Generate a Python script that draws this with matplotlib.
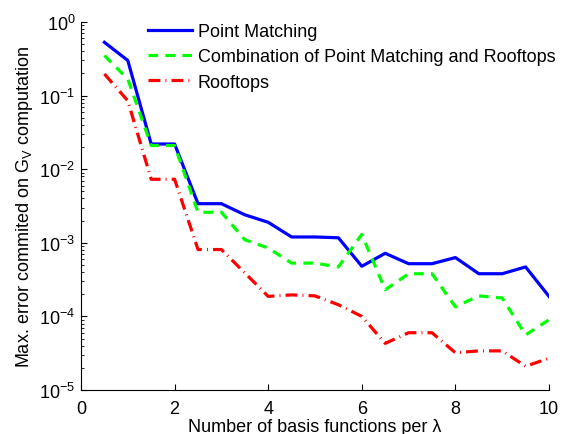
import numpy as np
import matplotlib
matplotlib.use("Agg")
import matplotlib.pyplot as plt
from matplotlib.ticker import LogLocator, NullFormatter

plt.rcParams['font.family'] = ['Liberation Sans', 'DejaVu Sans']
plt.rcParams['mathtext.fontset'] = 'custom'
plt.rcParams['mathtext.rm'] = 'Liberation Sans'
plt.rcParams['mathtext.it'] = 'Liberation Sans'

# basis functions per lambda
n_basis = [0.5, 1, 1.5, 2, 2.5, 3, 3.5, 4, 4.5, 5,
           5.5, 6, 6.5, 7, 7.5, 8, 8.5, 9, 9.5, 10]

# max error, point matching
err_pm = [0.53, 0.30, 0.022, 0.022, 0.0034, 0.0034, 0.0024, 0.0019, 0.0012, 0.0012,
          0.00117, 0.00048, 0.00072, 0.00052, 0.00052, 0.00063, 0.00038, 0.00038, 0.00047, 0.000187]

# combination of point matching and rooftops
err_comb = [0.35, 0.168, 0.021, 0.021, 0.0026, 0.0026, 0.0011, 0.00085, 0.00053, 0.00053,
            0.00047, 0.0013, 0.00023, 0.00038, 0.00038, 0.000135, 0.00019, 0.000178, 0.000056, 0.00009]

# rooftops
err_roof = [0.197, 0.085, 0.0073, 0.0073, 0.00081, 0.00081, 0.00039, 0.000187, 0.000196, 0.00019,
            0.000144, 0.0001, 0.000043, 0.00006, 0.00006, 0.000032, 0.000034, 0.000034, 0.000021, 0.000027]

fs = 13

fig = plt.figure(figsize=(5.69, 4.35), dpi=100)
ax = fig.add_axes([81/569, 1 - 391/435, (549 - 81)/569, (391 - 23)/435])

ax.semilogy(n_basis, err_pm, color='#0000ff', lw=2.3, label='Point Matching')
ax.semilogy(n_basis, err_comb, color='#00ff00', lw=2.3, ls=(0, (3, 2.3)),
            label='Combination of Point Matching and Rooftops')
ax.semilogy(n_basis, err_roof, color='#ff0000', lw=2.3, ls=(0, (3.7, 1.6, 0.3, 1.6)),
            label='Rooftops')

ax.set_xlim(0, 10)
ax.set_ylim(1e-5, 1e0)
ax.set_xticks([0, 2, 4, 6, 8, 10])
ax.yaxis.set_major_locator(LogLocator(base=10, numticks=10))
ax.yaxis.set_minor_locator(LogLocator(base=10, subs=np.arange(2, 10), numticks=10))
ax.yaxis.set_minor_formatter(NullFormatter())

for s in ['top', 'right']:
    ax.spines[s].set_visible(False)
ax.tick_params(direction='in', which='both', labelsize=fs, length=4)
ax.tick_params(which='minor', length=2)
ax.tick_params(axis='x', pad=7)
ax.tick_params(axis='y', pad=4)

ax.set_xlabel('Number of basis functions per λ', fontsize=fs, labelpad=1)
ax.set_ylabel('Max. error commited on G$_V$ computation', fontsize=fs, labelpad=3)

ax.legend(loc='upper left', bbox_to_anchor=(0.128, 1.016), frameon=False, fontsize=fs,
          handlelength=2.45, handletextpad=0.3, labelspacing=0.45, borderaxespad=0)

fig.savefig('out.png', dpi=100)
